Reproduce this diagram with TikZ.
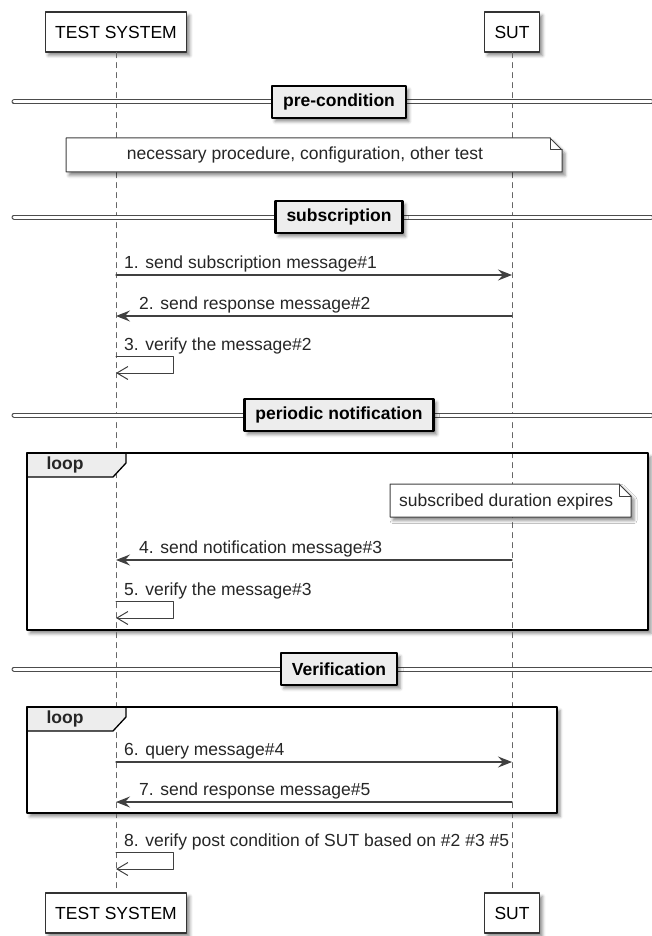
\documentclass[tikz,border=0pt]{standalone}
\usepackage{fontspec}
\setmainfont{Liberation Sans}
\usetikzlibrary{arrows.meta,shadows.blur}

\begin{document}
\begin{tikzpicture}[x=1pt, y=-1pt, line cap=round, line join=round,
  font=\fontsize{17.5}{21}\selectfont,
  shade/.style={blur shadow={shadow xshift=3pt, shadow yshift=-3.5pt, shadow blur radius=3pt, shadow opacity=45}},
  actor/.style={draw=black!80, line width=1.3pt, fill=white, minimum height=40pt, inner xsep=10pt, shade},
  sepbox/.style={draw=black, line width=2.4pt, fill=black!7, font=\fontsize{17.5}{21}\selectfont\bfseries, minimum height=32pt, inner xsep=11pt, shade},
  sepline/.style={draw=black!70, line width=1pt, double=white, double distance=3pt},
  lifeline/.style={draw=black!60, line width=0.9pt, dash pattern=on 5pt off 5pt},
  msg/.style={draw=black!75, line width=1.1pt, -{Stealth[length=14pt, width=11pt, inset=5pt]}},
  selfmsg/.style={draw=black!75, line width=1pt, -{Straight Barb[length=11pt, width=13pt]}},
  lbl/.style={inner sep=0pt, anchor=base west, text=black!85},
  notebox/.style={draw=black!75, line width=1pt, fill=white, shade},
  framebox/.style={draw=black, line width=2.4pt},
  tabbox/.style={draw=black, line width=1.3pt, fill=black!7}
]
\useasboundingbox (0,0) rectangle (651,936);

% \sepbar{name}{y}{title}
\newcommand{\sepbar}[3]{%
  \draw[sepline] (14,#2) -- (651,#2);
  \node[sepbox] (#1) at (339,#2) {#3};
}

% \selfcall{name}{y}{label}
\newcommand{\selfcall}[3]{%
  \pgfmathsetmacro{\ylow}{#2+17}
  \coordinate (#1a) at (116,#2);
  \coordinate (#1b) at (116,\ylow);
  \draw[selfmsg] (#1a) -- ++(57,0) -- ++(0,17) -- (#1b);
  \node[lbl] (#1t) at (124,#2-6) {#3};
}

% loop frames (background first)
\fill[white, shade] (27,453) rectangle (648,630);
\fill[white, shade] (27,707) rectangle (557,813);

% participants and lifelines
\node[actor] (tsTop) at (116,32) {TEST SYSTEM};
\node[actor] (sutTop) at (512,32) {SUT};
\node[actor] (tsBot) at (116,913) {TEST SYSTEM};
\node[actor] (sutBot) at (512,913) {SUT};
\draw[lifeline] (tsTop.south) -- (tsBot.north);
\draw[lifeline] (sutTop.south) -- (sutBot.north);

% loop tabs and frame outlines
\draw[tabbox] (27,453) -- (126,453) -- (126,463) -- (113,477) -- (27,477) -- cycle;
\node[font=\fontsize{17.5}{21}\selectfont\bfseries, text=black!85] (loopA) at (65,465) {loop};
\draw[framebox] (27,453) rectangle (648,630);
\draw[tabbox] (27,707) -- (126,707) -- (126,717) -- (113,731) -- (27,731) -- cycle;
\node[font=\fontsize{17.5}{21}\selectfont\bfseries, text=black!85] (loopB) at (65,719) {loop};
\draw[framebox] (27,707) rectangle (557,813);

% pre-condition
\sepbar{pre}{102}{pre-condition}
\draw[notebox] (66,138) -- (550,138) -- (562,150) -- (562,172) -- (66,172) -- cycle;
\draw[draw=black!75, line width=1pt] (550,138) -- (550,150) -- (562,150);
\node[text=black!85] (preNote) at (305,155) {necessary procedure, configuration, other test};

% subscription
\sepbar{sub}{217}{subscription}
\coordinate (m1a) at (116,275);
\coordinate (m1b) at (512,275);
\draw[msg] (m1a) -- (m1b);
\node[lbl] (m1t) at (124,268) {1. send subscription message\#1};
\coordinate (m2a) at (512,316);
\coordinate (m2b) at (116,316);
\draw[msg] (m2a) -- (m2b);
\node[lbl] (m2t) at (139,309) {2. send response message\#2};
\selfcall{m3}{356}{3. verify the message\#2}

% periodic notification
\sepbar{per}{415}{periodic notification}
\draw[notebox] (390,484) -- (619,484) -- (631,496) -- (631,517) -- (390,517) -- cycle;
\draw[draw=black!75, line width=1pt] (619,484) -- (619,496) -- (631,496);
\node[lbl] (expNote) at (399,506) {subscribed duration expires};
\coordinate (m4a) at (512,560);
\coordinate (m4b) at (116,560);
\draw[msg] (m4a) -- (m4b);
\node[lbl] (m4t) at (139,553) {4. send notification message\#3};
\selfcall{m5}{601}{5. verify the message\#3}

% verification
\sepbar{ver}{669}{Verification}
\coordinate (m6a) at (116,762);
\coordinate (m6b) at (512,762);
\draw[msg] (m6a) -- (m6b);
\node[lbl] (m6t) at (124,755) {6. query message\#4};
\coordinate (m7a) at (512,802);
\coordinate (m7b) at (116,802);
\draw[msg] (m7a) -- (m7b);
\node[lbl] (m7t) at (139,795) {7. send response message\#5};
\selfcall{m8}{852}{8. verify post condition of SUT based on \#2 \#3 \#5}

\end{tikzpicture}
\end{document}
